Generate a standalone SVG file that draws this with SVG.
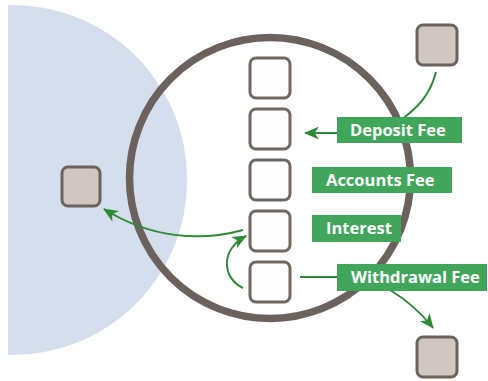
<svg xmlns="http://www.w3.org/2000/svg" width="488" height="381" viewBox="0 0 488 381">
<style>
.sq{fill:#fefefe;stroke:#6f6762;stroke-width:3}
.ext{fill:#d1c7c2;stroke:#6b625d;stroke-width:3}
.lbl{fill:#41a65c}
.lt{fill:#ffffff;font-family:"Open Sans","Liberation Sans",sans-serif;font-weight:700;font-size:16.5px}
.con{fill:none;stroke:#2f8a35;stroke-width:2}
</style>
<defs>
<marker id="ah" viewBox="0 0 14 12" refX="13" refY="6" markerWidth="15" markerHeight="13" markerUnits="userSpaceOnUse" orient="auto">
<path d="M0,0 L14,6 L0,12 L4,6 Z" fill="#2f8a35"/>
</marker>
</defs>
<path id="zone" d="M8,5.05 A175,175 0 1 1 8,354.95 Z" fill="#d5deed"/>
<circle id="ring" cx="270" cy="178" r="140.5" fill="none" stroke="#6b625d" stroke-width="7.5"/>
<g id="connectors">
<path class="con" d="M436,72 C430,95 418,108 398,122 Q388,133 370,133 L305,133" marker-end="url(#ah)"/>
<path class="con" d="M243,230 C200,242 150,238 104,209" marker-end="url(#ah)"/>
<path class="con" d="M243,288 C222,278 220,250 246,236" marker-end="url(#ah)"/>
<path class="con" d="M300,277 L345,277 Q380,280 390,290 Q415,305 433,328" marker-end="url(#ah)"/>
</g>
<g id="slot1"><rect class="sq" x="250" y="58" width="40" height="40" rx="6"/></g>
<g id="slot2"><rect class="sq" x="250" y="109" width="40" height="40" rx="6"/></g>
<g id="slot3"><rect class="sq" x="250" y="160" width="40" height="40" rx="6"/></g>
<g id="slot4"><rect class="sq" x="250" y="211" width="40" height="40" rx="6"/></g>
<g id="slot5"><rect class="sq" x="250" y="262" width="40" height="40" rx="6"/></g>
<g id="ext-top"><rect class="ext" x="417" y="25" width="40" height="40" rx="6"/></g>
<g id="ext-left"><rect class="ext" x="62" y="167" width="38" height="39" rx="6"/></g>
<g id="ext-bottom"><rect class="ext" x="417" y="337" width="40" height="40" rx="6"/></g>
<g id="deposit-fee"><rect class="lbl" x="337" y="117" width="125" height="26"/><text class="lt" x="350" y="136">Deposit Fee</text></g>
<g id="accounts-fee"><rect class="lbl" x="312" y="167" width="140" height="26"/><text class="lt" x="326" y="186">Accounts Fee</text></g>
<g id="interest"><rect class="lbl" x="312" y="215" width="89" height="27"/><text class="lt" x="326" y="234">Interest</text></g>
<g id="withdrawal-fee"><rect class="lbl" x="337" y="264" width="150" height="27"/><text class="lt" x="351" y="283">Withdrawal Fee</text></g>
</svg>
